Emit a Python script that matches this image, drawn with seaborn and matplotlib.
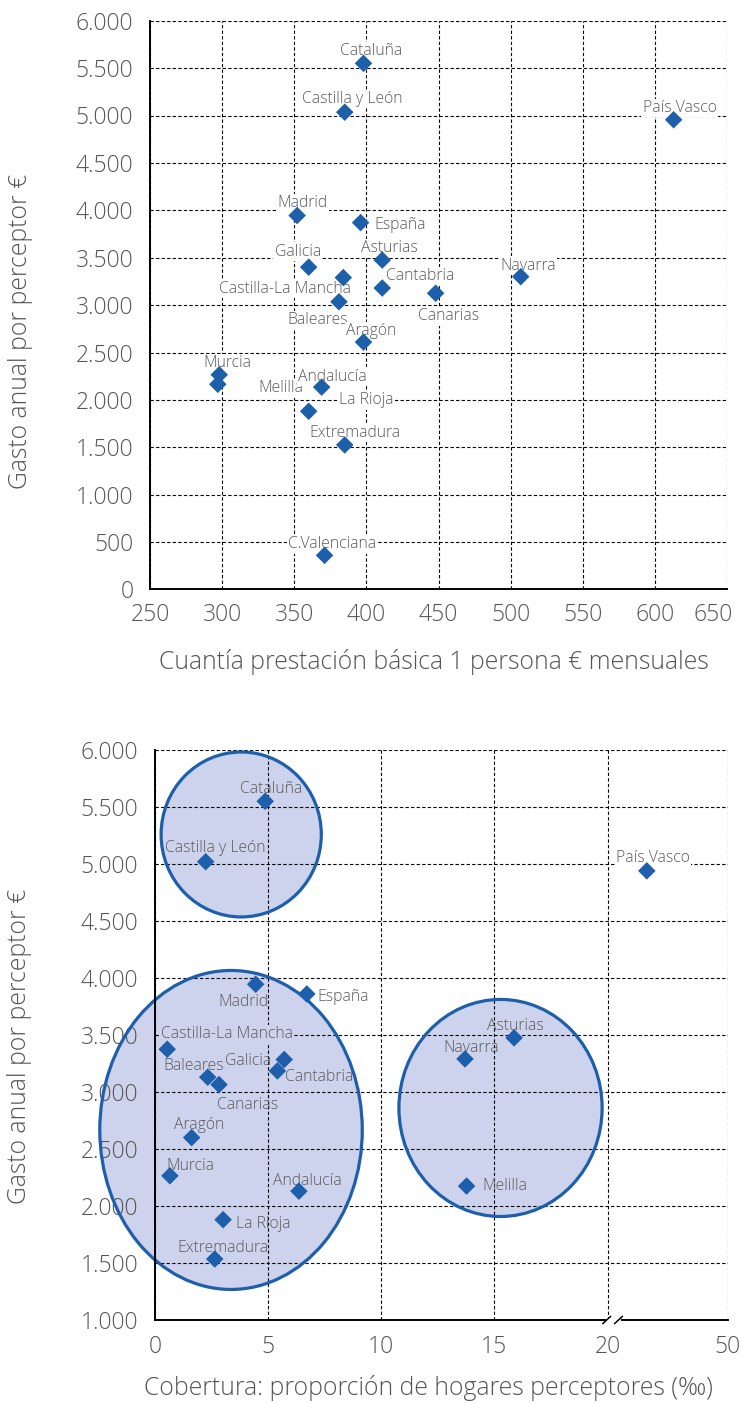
import numpy as np
import pandas as pd
import matplotlib
matplotlib.use("Agg")
import matplotlib.pyplot as plt
import matplotlib.transforms as mtransforms
import seaborn as sns
from matplotlib.patches import Ellipse
from matplotlib.ticker import FixedLocator, FuncFormatter, MultipleLocator
from matplotlib.lines import Line2D

# ---------------- data ----------------
top_regions = ["Cataluña", "Castilla y León", "País Vasco", "Madrid", "España", "Asturias",
               "Galicia", "Castilla-La Mancha", "Cantabria", "Canarias", "Navarra", "Baleares",
               "Aragón", "Murcia", "Melilla", "Andalucía", "La Rioja", "Extremadura", "C.Valenciana"]
top_cuantia = [398, 385, 613, 352, 396, 411, 360, 384, 411, 448, 507, 381,
               398, 298, 297, 369, 360, 385, 371]
top_gasto = [5550, 5035, 4955, 3945, 3870, 3475, 3400, 3290, 3180, 3125, 3300, 3035,
             2610, 2265, 2165, 2135, 1880, 1525, 360]

bot_regions = ["Cataluña", "Castilla y León", "País Vasco", "Madrid", "España", "Castilla-La Mancha",
               "Asturias", "Galicia", "Navarra", "Cantabria", "Baleares", "Canarias", "Aragón",
               "Murcia", "Melilla", "Andalucía", "La Rioja", "Extremadura"]
bot_cobertura = [4.87, 2.24, 29.8, 4.45, 6.71, 0.54, 15.87, 5.71, 13.70, 5.41, 2.33, 2.83, 1.62,
                 0.66, 13.77, 6.36, 3.01, 2.64]
bot_gasto = [5550, 5020, 4940, 3945, 3860, 3375, 3475, 3285, 3290, 3185, 3130, 3065, 2600,
             2265, 2175, 2130, 1880, 1535]

top_xticks = [250, 300, 350, 400, 450, 500, 550, 600, 650]
top_yticks = [0, 500, 1000, 1500, 2000, 2500, 3000, 3500, 4000, 4500, 5000, 5500, 6000]
bot_xticks = [0, 5, 10, 15, 20, 50]
bot_yticks = [1000, 1500, 2000, 2500, 3000, 3500, 4000, 4500, 5000, 5500, 6000]

top_xlabel = "Cuantía prestación básica 1 persona € mensuales"
bot_xlabel = "Cobertura: proporción de hogares perceptores (‰)"
ylabel = "Gasto anual por perceptor €"

# highlight groups (center x, center y, width, height)
groups = [(3.81, 5259, 7.08, 1447), (3.36, 2667, 11.6, 2798), (15.27, 2860, 8.98, 1904)]

# ---------------- label placement (pixels: dx, dy-down, ha) ----------------
top_off = {
    "Cataluña": (8, -12, "center"), "Castilla y León": (8, -13, "center"),
    "País Vasco": (6, -12, "center"), "Madrid": (5.5, -12.5, "center"),
    "España": (14, 2, "left"), "Asturias": (7, -12, "center"),
    "Galicia": (-11, -15.6, "center"), "Castilla-La Mancha": (8, 11.6, "right"),
    "Cantabria": (3.7, -12, "left"), "Canarias": (13, 23, "center"),
    "Navarra": (7, -11, "center"), "Baleares": (-21.6, 18, "center"),
    "Aragón": (8, -11, "center"), "Murcia": (8, -12, "center"),
    "Melilla": (41, 4, "left"), "Andalucía": (10.5, -10.6, "center"),
    "La Rioja": (30, -11, "left"), "Extremadura": (9.7, -12.3, "center"),
    "C.Valenciana": (8, -11, "center"),
}
bot_off = {
    "Cataluña": (6, -12, "center"), "Castilla y León": (10, -14, "center"),
    "País Vasco": (6, -13, "center"), "Madrid": (-12, 18, "center"),
    "España": (11, 3, "left"), "Castilla-La Mancha": (60, -15, "center"),
    "Asturias": (1, -12, "center"), "Galicia": (-13, 1, "right"),
    "Navarra": (6, -11, "center"), "Cantabria": (8, 6, "left"),
    "Baleares": (-14, -11, "center"), "Canarias": (29, 20, "center"),
    "Aragón": (7, -13, "center"), "Murcia": (20, -10, "center"),
    "Melilla": (16, 0, "left"), "Andalucía": (8, -10, "center"),
    "La Rioja": (13, 4, "left"), "Extremadura": (8, -11, "center"),
}

# ---------------- style ----------------
sns.set_theme(style="white")
plt.rcParams["font.family"] = ["Open Sans", "DejaVu Sans"]
BLUE = "#1d5fab"
FILL = "#cdd3ec"
TXT = "#555555"
LBL = "#5a5a5a"
PX = 0.72  # points per pixel at dpi 100
TICK_FS = 16.5
AX_FS = 17.8
LAB_FS = 11.3

fig = plt.figure(figsize=(7.42, 14.03), dpi=100)
ax1 = fig.add_axes([150 / 742, 1 - 589.5 / 1403, 577 / 742, 568.8 / 1403])
ax2 = fig.add_axes([155 / 742, 1 - 1320 / 1403, 572.7 / 742, 570 / 1403])

thousands = FuncFormatter(lambda v, p: f"{int(round(v)):,}".replace(",", "."))


def style_axes(ax):
    for s in ["top", "right"]:
        ax.spines[s].set_visible(False)
    for s in ["left", "bottom"]:
        ax.spines[s].set_color("black")
        ax.spines[s].set_linewidth(1.4)
    ax.grid(True, which="major", color="black", linestyle=(0, (3, 2)), linewidth=0.8)
    ax.set_axisbelow(True)
    ax.tick_params(axis="both", which="major", labelsize=TICK_FS, labelcolor=TXT, color="black", width=1.3)
    ax.tick_params(axis="both", which="minor", color="black", width=1.1)
    ax.yaxis.set_major_formatter(thousands)
    for t in ax.get_xticklabels() + ax.get_yticklabels():
        t.set_fontweight("light")


# ---------------- top chart ----------------
df_top = pd.DataFrame({"region": top_regions, "cuantia": top_cuantia, "gasto": top_gasto})
sns.scatterplot(data=df_top, x="cuantia", y="gasto", ax=ax1, marker="D", s=80,
                color=BLUE, edgecolor="none", zorder=3, legend=False)
ax1.set_xlim(250, 650)
ax1.set_ylim(0, 6000)
ax1.xaxis.set_major_locator(FixedLocator(top_xticks))
ax1.yaxis.set_major_locator(FixedLocator(top_yticks))
ax1.xaxis.set_minor_locator(MultipleLocator(10))
ax1.yaxis.set_minor_locator(MultipleLocator(100))
style_axes(ax1)
ax1.tick_params(axis="y", which="major", direction="inout", length=8)
ax1.tick_params(axis="y", which="minor", direction="inout", length=5)
ax1.tick_params(axis="x", which="major", direction="inout", length=10)
ax1.tick_params(axis="x", which="minor", direction="out", length=4)
ax1.tick_params(axis="y", pad=8)
ax1.tick_params(axis="x", pad=5)
ax1.set_xlabel(top_xlabel, fontsize=AX_FS, color=TXT, fontweight="light")
ax1.set_ylabel(ylabel, fontsize=AX_FS, color=TXT, fontweight="light")
ax1.xaxis.set_label_coords(0.492, -0.127)
ax1.yaxis.set_label_coords(-0.225, 0.453)
ax1.xaxis.label.set_va("center")
ax1.yaxis.label.set_va("center")

for r, x, y in zip(top_regions, top_cuantia, top_gasto):
    dx, dy, ha = top_off[r]
    ax1.annotate(r, (x, y), xytext=(dx * PX, -dy * PX), textcoords="offset points",
                 ha=ha, va="center", fontsize=LAB_FS, color=LBL, fontweight="light", zorder=2.8,
                 bbox=dict(boxstyle="square,pad=0.08", fc="white", ec="none"))

# ---------------- bottom chart (broken axis after 20) ----------------
K = 0.177


def fwd(x):
    x = np.asarray(x, dtype=float)
    return np.where(x <= 20, x, 20 + (x - 20) * K)


def inv(x):
    x = np.asarray(x, dtype=float)
    return np.where(x <= 20, x, 20 + (x - 20) / K)


ax2.set_xscale("function", functions=(fwd, inv))
df_bot = pd.DataFrame({"region": bot_regions, "cobertura": bot_cobertura, "gasto": bot_gasto})

for (cx, cy, w, h) in groups:
    ax2.add_patch(Ellipse((cx, cy), w, h, facecolor=FILL, edgecolor="none", zorder=0.2, clip_on=False))
    ax2.add_patch(Ellipse((cx, cy), w, h, facecolor="none", edgecolor=BLUE, linewidth=2.3,
                          zorder=1.5, clip_on=False))

sns.scatterplot(data=df_bot, x="cobertura", y="gasto", ax=ax2, marker="D", s=80,
                color=BLUE, edgecolor="none", zorder=3, legend=False)
ax2.set_xlim(0, 50)
ax2.set_ylim(1000, 6000)
ax2.xaxis.set_major_locator(FixedLocator(bot_xticks))
ax2.xaxis.set_minor_locator(FixedLocator(list(range(1, 20)) + [29.3, 36.6, 43.2]))
ax2.yaxis.set_major_locator(FixedLocator(bot_yticks))
ax2.yaxis.set_minor_locator(MultipleLocator(100))
ax2.xaxis.set_major_formatter(FuncFormatter(lambda v, p: f"{v:g}"))
style_axes(ax2)
ax2.tick_params(axis="y", which="major", direction="out", length=6)
ax2.tick_params(axis="y", which="minor", direction="in", length=3.5)
ax2.tick_params(axis="x", which="major", direction="out", length=6)
ax2.tick_params(axis="x", which="minor", direction="out", length=4)
ax2.tick_params(axis="y", pad=6)
ax2.tick_params(axis="x", pad=5)
ax2.set_xlabel(bot_xlabel, fontsize=AX_FS, color=TXT, fontweight="light")
ax2.set_ylabel(ylabel, fontsize=AX_FS, color=TXT, fontweight="light")
ax2.xaxis.set_label_coords(0.477, -0.119)
ax2.yaxis.set_label_coords(-0.236, 0.48)
ax2.xaxis.label.set_va("center")
ax2.yaxis.label.set_va("center")

box_white = dict(boxstyle="square,pad=0.08", fc="white", ec="none")
box_fill = dict(boxstyle="square,pad=0.08", fc=FILL, ec="none")
bbox_for = {"País Vasco": box_white, "España": box_white, "Castilla-La Mancha": box_fill}
for r, x, y in zip(bot_regions, bot_cobertura, bot_gasto):
    dx, dy, ha = bot_off[r]
    ax2.annotate(r, (x, y), xytext=(dx * PX, -dy * PX), textcoords="offset points",
                 ha=ha, va="center", fontsize=LAB_FS, color=LBL, fontweight="light", zorder=2.8,
                 bbox=bbox_for.get(r))

# axis break marks
ax2.add_line(Line2D([0.7914, 0.8100], [0, 0], transform=ax2.transAxes, color="white",
                    linewidth=3, clip_on=False, zorder=5))
for xc in [0.7887, 0.8093]:
    ax2.add_line(Line2D([xc - 0.007, xc + 0.007], [-0.0065, 0.0065], transform=ax2.transAxes,
                        color="black", linewidth=1.1, clip_on=False, zorder=6))

# keep the last tick label of the top chart inside the canvas
fig.canvas.draw()
last = ax1.get_xticklabels()[-1]
last.set_transform(last.get_transform() + mtransforms.ScaledTranslation(-14 / 100, 0, fig.dpi_scale_trans))

fig.savefig("out.png", dpi=100)
